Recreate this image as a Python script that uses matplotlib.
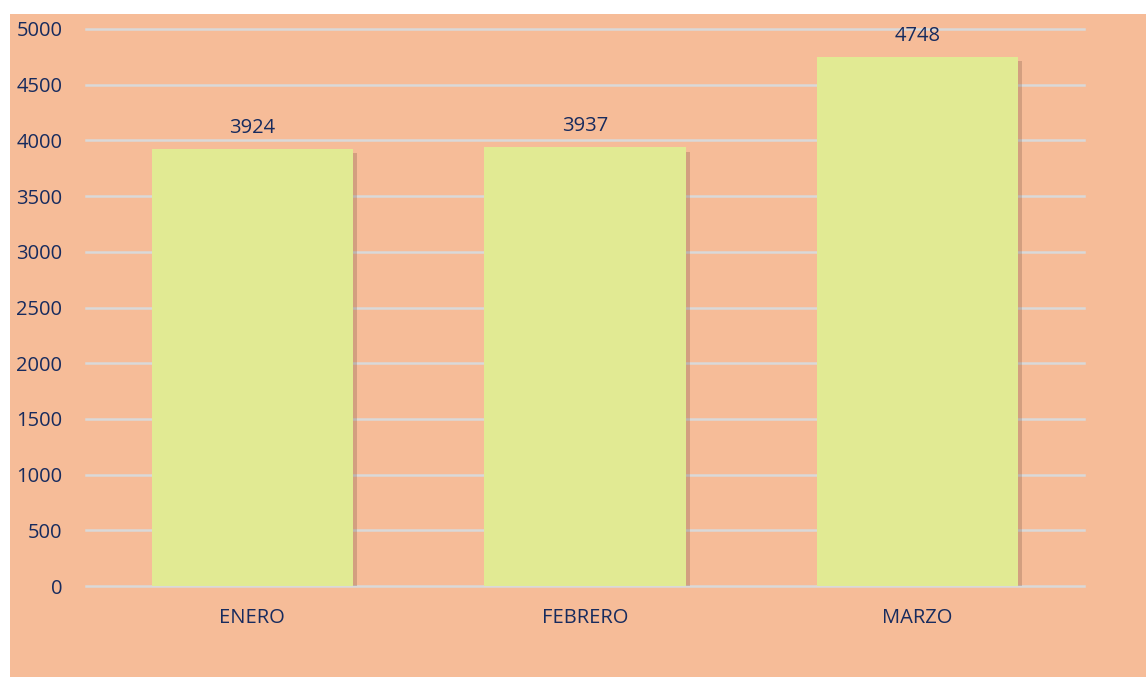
"""
Balkendiagramm: Werte pro Monat (ENERO, FEBRERO, MARZO).
"""

import matplotlib
matplotlib.use("Agg")
import matplotlib.pyplot as plt
import matplotlib.patheffects as pe
from matplotlib.patches import Rectangle

# Daten
meses = ["ENERO", "FEBRERO", "MARZO"]
valores = [3924, 3937, 4748]
y_ticks = [0, 500, 1000, 1500, 2000, 2500, 3000, 3500, 4000, 4500, 5000]

fondo = "#F6BC98"
barra = "#E1EA93"
texto = "#172B5E"
rejilla = "#D9D9D9"

plt.rcParams["font.family"] = ["Open Sans", "DejaVu Sans"]

fig = plt.figure(figsize=(11.46, 6.77), dpi=100)
fig.patch.set_facecolor("white")
# Hintergrund (weißer Rand links und oben)
fig.patches.append(Rectangle((10 / 1146, 0), 1 - 10 / 1146, 663 / 677,
                             transform=fig.transFigure, facecolor=fondo,
                             edgecolor="none", zorder=-5))

ax = fig.add_axes([86 / 1146, 91 / 677, 998 / 1146, 557 / 677])
ax.set_facecolor("none")

x = range(len(meses))
bars = ax.bar(x, valores, width=0.605, color=barra, zorder=3)
for b in bars:
    b.set_path_effects([pe.SimplePatchShadow(offset=(3, -3), alpha=0.25,
                                             shadow_rgbFace="#6b4a3a"),
                        pe.Normal()])

for i, v in enumerate(valores):
    ax.annotate(str(v), (i, v), xytext=(0, 8), textcoords="offset points",
                ha="center", va="bottom", color=texto, fontsize=14.5)

ax.set_xlim(-0.5, len(meses) - 0.5)
ax.set_ylim(0, 5000)
ax.set_yticks(y_ticks)
ax.set_xticks(list(x))
ax.set_xticklabels(meses)
ax.grid(axis="y", color=rejilla, linewidth=1.8, zorder=0)
ax.set_axisbelow(True)
for gl in ax.get_ygridlines():
    gl.set_clip_on(False)
for s in ax.spines.values():
    s.set_visible(False)
ax.tick_params(axis="both", length=0, colors=texto, labelsize=14.5)
ax.tick_params(axis="y", pad=17)
ax.tick_params(axis="x", pad=16)

fig.savefig("out.png", dpi=100, facecolor=fig.get_facecolor())
